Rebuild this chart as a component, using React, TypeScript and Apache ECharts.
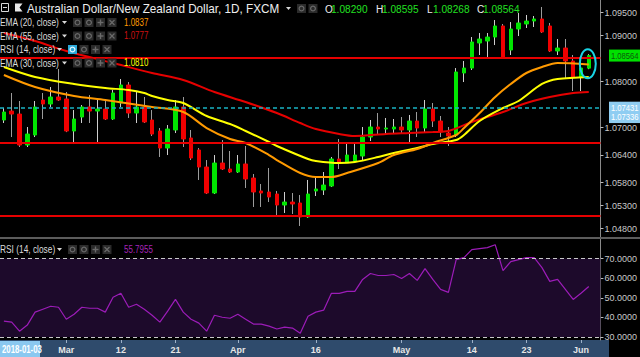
import React, { useEffect, useRef } from 'react';
import * as echarts from 'echarts';

// ---------- data ----------
const dates = [
  '2018-02-19','2018-02-20','2018-02-21','2018-02-22','2018-02-23',
  '2018-02-26','2018-02-27','2018-02-28','2018-03-01','2018-03-02',
  '2018-03-05','2018-03-06','2018-03-07','2018-03-08','2018-03-09',
  '2018-03-12','2018-03-13','2018-03-14','2018-03-15','2018-03-16',
  '2018-03-19','2018-03-20','2018-03-21','2018-03-22','2018-03-23',
  '2018-03-26','2018-03-27','2018-03-28','2018-03-29','2018-03-30',
  '2018-04-02','2018-04-03','2018-04-04','2018-04-05','2018-04-06',
  '2018-04-09','2018-04-10','2018-04-11','2018-04-12','2018-04-13',
  '2018-04-16','2018-04-17','2018-04-18','2018-04-19','2018-04-20',
  '2018-04-23','2018-04-24','2018-04-25','2018-04-26','2018-04-27',
  '2018-04-30','2018-05-01','2018-05-02','2018-05-03','2018-05-04',
  '2018-05-07','2018-05-08','2018-05-09','2018-05-10','2018-05-11',
  '2018-05-14','2018-05-15','2018-05-16','2018-05-17','2018-05-18',
  '2018-05-21','2018-05-22','2018-05-23','2018-05-24','2018-05-25',
  '2018-05-28','2018-05-29','2018-05-30','2018-05-31','2018-06-01',
  '2018-06-04'
];

const xTickLabels: [string, string][] = [
  ['2018-03-01', 'Mar'], ['2018-03-12', '12'], ['2018-03-21', '21'],
  ['2018-04-02', 'Apr'], ['2018-04-16', '16'], ['2018-05-01', 'May'],
  ['2018-05-14', '14'], ['2018-05-23', '23'], ['2018-06-01', 'Jun']
];

const priceTicks = [1.048, 1.053, 1.058, 1.064, 1.07, 1.08, 1.09, 1.095];
const rsiTicks = [30, 40, 50, 60, 70];

// [open, close, low, high]
const ohlc: number[][] = [
  [1.07163, 1.07337, 1.07098, 1.07424],
  [1.07358, 1.07293, 1.06793, 1.07750],
  [1.07293, 1.06619, 1.06576, 1.07576],
  [1.06619, 1.06858, 1.06576, 1.07011],
  [1.06837, 1.07446, 1.06793, 1.07576],
  [1.07598, 1.07511, 1.07185, 1.07750],
  [1.07511, 1.07663, 1.07446, 1.07880],
  [1.07663, 1.07598, 1.07576, 1.08272],
  [1.07620, 1.06924, 1.06900, 1.07772],
  [1.06924, 1.07185, 1.06641, 1.07380],
  [1.07228, 1.07446, 1.07098, 1.07489],
  [1.07446, 1.07358, 1.07098, 1.07706],
  [1.07358, 1.07402, 1.06685, 1.07598],
  [1.07402, 1.07185, 1.07163, 1.07598],
  [1.07185, 1.07750, 1.07163, 1.07815],
  [1.07533, 1.07924, 1.07446, 1.08054],
  [1.07924, 1.07315, 1.07207, 1.07989],
  [1.07315, 1.07446, 1.07098, 1.07772],
  [1.07446, 1.07120, 1.07098, 1.07663],
  [1.07163, 1.06858, 1.06815, 1.07380],
  [1.06924, 1.06554, 1.06359, 1.06989],
  [1.06554, 1.06967, 1.06402, 1.07054],
  [1.06946, 1.07446, 1.06880, 1.07598],
  [1.07446, 1.06750, 1.06576, 1.07663],
  [1.06772, 1.06337, 1.06293, 1.06946],
  [1.06511, 1.06141, 1.05859, 1.06554],
  [1.06141, 1.05576, 1.05554, 1.06293],
  [1.05576, 1.06228, 1.05554, 1.06402],
  [1.06228, 1.06098, 1.06076, 1.06728],
  [1.06098, 1.06033, 1.06011, 1.06489],
  [1.06033, 1.06207, 1.06011, 1.06402],
  [1.06207, 1.05880, 1.05685, 1.06598],
  [1.05902, 1.05598, 1.05272, 1.05989],
  [1.05620, 1.05576, 1.05272, 1.05772],
  [1.05598, 1.05489, 1.05380, 1.06120],
  [1.05554, 1.05315, 1.05054, 1.05620],
  [1.05315, 1.05380, 1.05141, 1.05598],
  [1.05380, 1.05337, 1.05120, 1.05576],
  [1.05359, 1.05054, 1.04859, 1.05533],
  [1.05054, 1.05554, 1.05033, 1.05859],
  [1.05620, 1.05663, 1.05511, 1.05924],
  [1.05641, 1.05750, 1.05533, 1.06033],
  [1.05728, 1.06315, 1.05706, 1.06359],
  [1.06315, 1.06250, 1.06098, 1.06750],
  [1.06250, 1.06402, 1.06228, 1.06663],
  [1.06272, 1.06402, 1.06228, 1.06641],
  [1.06380, 1.06793, 1.06293, 1.07011],
  [1.06793, 1.07011, 1.06706, 1.07163],
  [1.07011, 1.06967, 1.06858, 1.07315],
  [1.06967, 1.06989, 1.06858, 1.07207],
  [1.06967, 1.07011, 1.06858, 1.07185],
  [1.07011, 1.06946, 1.06858, 1.07228],
  [1.06946, 1.07141, 1.06685, 1.07272],
  [1.07141, 1.06989, 1.06793, 1.07337],
  [1.06989, 1.07402, 1.06902, 1.07598],
  [1.07402, 1.07141, 1.07011, 1.07533],
  [1.07141, 1.06902, 1.06793, 1.07250],
  [1.06880, 1.06815, 1.06598, 1.07011],
  [1.06837, 1.08207, 1.06793, 1.08293],
  [1.08185, 1.08293, 1.07989, 1.08446],
  [1.08293, 1.08859, 1.08250, 1.08967],
  [1.08837, 1.08924, 1.08576, 1.09054],
  [1.08880, 1.08967, 1.08533, 1.09054],
  [1.08967, 1.09207, 1.08793, 1.09337],
  [1.09207, 1.08533, 1.08511, 1.09250],
  [1.08685, 1.09141, 1.08576, 1.09293],
  [1.09141, 1.09272, 1.08989, 1.09489],
  [1.09250, 1.09315, 1.09163, 1.09446],
  [1.09315, 1.09359, 1.09185, 1.09424],
  [1.09359, 1.09076, 1.09054, 1.09620],
  [1.09207, 1.08663, 1.08641, 1.09272],
  [1.08663, 1.08728, 1.08576, 1.08924],
  [1.08728, 1.08446, 1.08076, 1.08924],
  [1.08446, 1.08098, 1.07793, 1.08576],
  [1.08098, 1.08293, 1.07793, 1.08533],
  [1.08290, 1.08564, 1.08268, 1.08595]
];

// EMA readings: [bar index, value]
const ema20: number[][] = [
  [0, 1.08141], [4, 1.07880], [9, 1.07685], [13, 1.07598], [19, 1.07446],
  [23, 1.07337], [26, 1.06989], [29, 1.06750], [31, 1.06663], [34, 1.06402],
  [35, 1.06293], [38, 1.06011], [40, 1.05924], [42, 1.05924], [44, 1.06011],
  [48, 1.06228], [50, 1.06402], [53, 1.06533], [55, 1.06663], [58, 1.06837],
  [59, 1.06989], [61, 1.07315], [63, 1.07663], [65, 1.07946], [67, 1.08185],
  [69, 1.08315], [71, 1.08402], [75, 1.0837]
];
const ema30: number[][] = [
  [0, 1.08315], [4, 1.08098], [9, 1.07946], [13, 1.07859], [16, 1.07815],
  [18, 1.07750], [19, 1.07685], [21, 1.07598], [23, 1.07533], [26, 1.07250],
  [29, 1.07076], [31, 1.06924], [34, 1.06685], [35, 1.06598], [39, 1.06315],
  [40, 1.06272], [43, 1.06228], [45, 1.06250], [48, 1.06359], [50, 1.06446],
  [53, 1.06554], [55, 1.06641], [58, 1.06728], [59, 1.06837], [61, 1.07141],
  [64, 1.07424], [66, 1.07576], [69, 1.07946], [71, 1.08054], [75, 1.0810]
];
const ema55: number[][] = [
  [0, 1.09054], [4, 1.08880], [8, 1.08663], [14, 1.08402], [19, 1.08185],
  [23, 1.08033], [27, 1.07772], [31, 1.07554], [35, 1.07315], [38, 1.07098],
  [40, 1.06967], [43, 1.06859], [45, 1.06815], [49, 1.06859], [52, 1.06880],
  [55, 1.06902], [57, 1.06924], [60, 1.07120], [64, 1.07337], [67, 1.07533],
  [70, 1.07663], [73, 1.07750], [75, 1.0777]
];

const rsi = [
  38.1, 37.6, 33.0, 36.1, 42.7, 44.2, 45.7, 45.2, 39.1, 41.6,
  45.2, 44.7, 44.7, 42.7, 50.3, 52.3, 45.2, 46.7, 44.2, 41.1,
  37.6, 43.2, 49.2, 42.7, 39.1, 37.1, 33.0, 41.1, 40.1, 39.6,
  41.6, 39.1, 36.6, 36.6, 35.6, 34.1, 35.1, 34.6, 32.0, 40.6,
  42.7, 43.7, 52.3, 52.3, 53.3, 53.3, 59.4, 62.4, 61.4, 61.4,
  61.9, 59.9, 62.4, 58.9, 64.9, 59.4, 54.3, 52.8, 69.5, 70.5,
  74.6, 75.1, 75.6, 77.1, 63.9, 68.5, 69.5, 70.5, 70.5, 65.4,
  58.4, 59.4, 54.3, 49.2, 52.3, 55.8
];

const hLinesRed = [1.08522, 1.06674, 1.05083];
const hLineCyan = 1.07431;
const priceTags = [
  { value: 1.08564, text: '1.08564', bg: '#00e000', fg: '#0d5a0d', shift: 0 },
  { value: 1.07431, text: '1.07431', bg: '#8fcdf2', fg: '#ffffff', shift: 0 },
  { value: 1.07336, text: '1.07336', bg: '#8fcdf2', fg: '#ffffff', shift: 5 }
];

const title = 'Australian Dollar/New Zealand Dollar, 1D, FXCM';
const ohlcLegend = [
  ['O', '1.08290'], ['H', '1.08595'], ['L', '1.08268'], ['C', '1.08564']
];

// ---------- styles ----------
const UP = '#00e600';
const DOWN = '#f00000';
const FONT = '"Liberation Sans", Arial, sans-serif';
const categories = [...dates, ''];
const tickMap: Record<string, string> = Object.fromEntries(xTickLabels);

function txt(x: number, y: number, text: string, fill: string, size: number, sx: number, weight = 'normal', z = 50) {
  return {
    type: 'text', x, y, scaleX: sx, z, silent: true,
    style: {
      text, fill, font: `${weight} ${size}px ${FONT}`,
      textAlign: 'left', align: 'left', textVerticalAlign: 'middle', verticalAlign: 'middle'
    }
  };
}

function iconBoxes(x0: number, yc: number, highlight: boolean) {
  const els: any[] = [];
  for (let i = 0; i < 4; i++) {
    const x = x0 + i * 11.5;
    const hl = highlight && i === 0;
    els.push({ type: 'rect', z: 50, silent: true, shape: { x, y: yc - 4.5, width: 9, height: 9 }, style: { fill: hl ? '#2aa8d8' : '#2b2b2b' } });
    const gc = hl ? '#e8f8ff' : '#6a6a6a';
    const cx = x + 4.5;
    if (i < 2) {
      els.push({ type: 'circle', z: 51, silent: true, shape: { cx, cy: yc, r: 2.4 }, style: { fill: 'none', stroke: gc, lineWidth: 1.2 } });
    } else if (i === 2) {
      els.push({ type: 'line', z: 51, silent: true, shape: { x1: cx - 3, y1: yc, x2: cx + 3, y2: yc }, style: { stroke: gc, lineWidth: 1.4 } });
      els.push({ type: 'line', z: 51, silent: true, shape: { x1: cx, y1: yc - 3, x2: cx, y2: yc + 3 }, style: { stroke: gc, lineWidth: 1.4 } });
    } else {
      els.push({ type: 'line', z: 51, silent: true, shape: { x1: cx - 2.5, y1: yc - 2.5, x2: cx + 2.5, y2: yc + 2.5 }, style: { stroke: gc, lineWidth: 1.2 } });
      els.push({ type: 'line', z: 51, silent: true, shape: { x1: cx + 2.5, y1: yc - 2.5, x2: cx - 2.5, y2: yc + 2.5 }, style: { stroke: gc, lineWidth: 1.2 } });
    }
  }
  return els;
}

function caret(x: number, yc: number) {
  return { type: 'polygon', z: 50, silent: true, shape: { points: [[x, yc - 1.5], [x + 5, yc - 1.5], [x + 2.5, yc + 1.5]] }, style: { fill: '#d8d8d8' } };
}

function legendRow(yc: number, label: string, value: string | null, vColor: string, boxX: number, highlight: boolean) {
  const els: any[] = [txt(0, yc, label, '#dcdcdc', 11, 0.76)];
  els.push(caret(boxX - 11, yc));
  els.push(...iconBoxes(boxX, yc, highlight));
  if (value) els.push(txt(124, yc, value, vColor, 10, 0.8));
  return els;
}

const option: any = {
  animation: false,
  backgroundColor: '#000000',
  grid: [
    { left: -6, right: 30, top: 0, height: 238 },
    { left: -6, right: 30, top: 239, height: 101 }
  ],
  xAxis: [
    {
      type: 'category', gridIndex: 0, data: categories, boundaryGap: true,
      axisLine: { show: false }, axisTick: { show: false }, axisLabel: { show: false }, splitLine: { show: false }
    },
    {
      type: 'category', gridIndex: 1, data: categories, boundaryGap: true,
      axisLine: { show: false },
      axisTick: { show: true, length: 3, alignWithLabel: true, interval: (i: number, v: string) => !!tickMap[v], lineStyle: { color: '#9fb2c8' } },
      axisLabel: {
        show: true, interval: (i: number, v: string) => !!tickMap[v], formatter: (v: string) => tickMap[v] || '',
        color: '#e6e6e6', fontSize: 9, fontWeight: 'bold', fontFamily: FONT, margin: 5
      },
      splitLine: { show: false }
    }
  ],
  yAxis: [
    {
      type: 'value', gridIndex: 0, position: 'right', min: 1.04598, max: 1.09772, scale: true,
      axisLine: { show: true, lineStyle: { color: '#8a8a8a' } },
      axisTick: { show: true, length: 3, customValues: priceTicks, lineStyle: { color: '#bbbbbb' } },
      axisLabel: { show: true, customValues: priceTicks, formatter: (v: number) => v.toFixed(5), color: '#c8c8c8', fontSize: 9, fontFamily: FONT, margin: 4 },
      splitLine: { show: false }
    },
    {
      type: 'value', gridIndex: 1, position: 'right', min: 28.5, max: 80,
      axisLine: { show: true, lineStyle: { color: '#8a8a8a' } },
      axisTick: { show: true, length: 3, customValues: rsiTicks, lineStyle: { color: '#bbbbbb' } },
      axisLabel: { show: true, customValues: rsiTicks, formatter: (v: number) => v.toFixed(4), color: '#c8c8c8', fontSize: 9, fontFamily: FONT, margin: 4 },
      splitLine: { show: false }
    }
  ],
  series: [
    {
      name: 'wicks', type: 'candlestick', xAxisIndex: 0, yAxisIndex: 0, barWidth: 1, z: 2,
      data: ohlc,
      itemStyle: { color: '#cfcfcf', color0: '#9c9c9c', borderColor: '#cfcfcf', borderColor0: '#9c9c9c', borderWidth: 1 }
    },
    {
      name: 'bodies', type: 'candlestick', xAxisIndex: 0, yAxisIndex: 0, barWidth: 4, z: 3,
      data: ohlc.map(([o, c]) => [o, c, Math.min(o, c), Math.max(o, c)]),
      itemStyle: { color: UP, color0: DOWN, borderColor: UP, borderColor0: DOWN, borderWidth: 1 }
    },
    {
      name: 'EMA 55', type: 'line', xAxisIndex: 0, yAxisIndex: 0, data: ema55, smooth: 0.3, symbol: 'none', z: 4,
      lineStyle: { color: '#e60000', width: 2 },
      markLine: {
        silent: true, symbol: ['none', 'none'], label: { show: false }, precision: 5,
        data: [
          ...hLinesRed.map((v) => ({ yAxis: v, lineStyle: { color: '#e60000', width: 2, type: 'solid' } })),
          { yAxis: hLineCyan, lineStyle: { color: '#19b3c4', width: 1.5, type: [4, 3] } }
        ]
      }
    },
    {
      name: 'EMA 30', type: 'line', xAxisIndex: 0, yAxisIndex: 0, data: ema30, smooth: 0.3, symbol: 'none', z: 4,
      lineStyle: { color: '#ffff00', width: 2 }
    },
    {
      name: 'EMA 20', type: 'line', xAxisIndex: 0, yAxisIndex: 0, data: ema20, smooth: 0.3, symbol: 'none', z: 4,
      lineStyle: { color: '#ff9a00', width: 2 }
    },
    {
      name: 'RSI', type: 'line', xAxisIndex: 1, yAxisIndex: 1, data: rsi, symbol: 'none', z: 4,
      lineStyle: { color: '#9c1cb8', width: 1.2 },
      markArea: {
        silent: true, itemStyle: { color: '#1d0a2b' },
        data: [[{ yAxis: 30 }, { yAxis: 70 }]]
      },
      markLine: {
        silent: true, symbol: ['none', 'none'], label: { show: false }, precision: 4,
        lineStyle: { color: '#c8c8c8', width: 1, type: [4, 3] },
        data: [{ yAxis: 70 }, { yAxis: 30 }]
      }
    }
  ]
};

export default function App() {
  const ref = useRef<HTMLDivElement>(null);
  useEffect(() => {
    document.body.style.margin = '0';
    const chart = echarts.init(ref.current as HTMLDivElement, undefined, { renderer: 'svg', width: 640, height: 357 });
    chart.setOption(option);

    const py = (v: number) => chart.convertToPixel({ yAxisIndex: 0 }, v) as number;
    const lastX = chart.convertToPixel({ xAxisIndex: 0 }, dates[dates.length - 1]) as number;
    const last = ohlc[ohlc.length - 1];

    const g: any[] = [];
    // bottom date bar
    g.push({ type: 'rect', z: -1, silent: true, shape: { x: 0, y: 340, width: 609, height: 17 }, style: { fill: '#2f4b6c' } });
    g.push({ type: 'rect', z: 60, silent: true, shape: { x: 0, y: 341, width: 40, height: 16 }, style: { fill: '#8ac8f0' } });
    g.push(txt(2, 349.5, '2018-01-03', '#ffffff', 10, 0.78, 'bold', 61));
    // panel separator
    g.push({ type: 'rect', z: 40, silent: true, shape: { x: 0, y: 237, width: 640, height: 2 }, style: { fill: '#5c5c5c' } });

    // title row
    g.push({ type: 'rect', z: 50, silent: true, shape: { x: 1.5, y: 3.5, width: 7, height: 8 }, style: { fill: 'none', stroke: '#d8d8d8', lineWidth: 1 } });
    g.push({ type: 'line', z: 50, silent: true, shape: { x1: 3, y1: 7.5, x2: 7, y2: 7.5 }, style: { stroke: '#d8d8d8', lineWidth: 1 } });
    g.push({ type: 'polygon', z: 50, silent: true, shape: { points: [[15, 3.5], [22.5, 3.5], [19.5, 7.5], [22.5, 11.5], [15, 11.5]] }, style: { fill: '#e8e8e8' } });
    g.push(txt(27, 8.5, title, '#eeeeee', 13, 0.9));
    g.push(caret(286, 8.5));
    g.push({ type: 'rect', z: 50, silent: true, shape: { x: 297, y: 4, width: 9, height: 9 }, style: { fill: '#2b2b2b' } });
    g.push({ type: 'circle', z: 51, silent: true, shape: { cx: 301.5, cy: 8.5, r: 2.4 }, style: { fill: 'none', stroke: '#6a6a6a', lineWidth: 1.2 } });
    g.push({ type: 'rect', z: 50, silent: true, shape: { x: 308.5, y: 4, width: 9, height: 9 }, style: { fill: '#2b2b2b' } });
    g.push({ type: 'circle', z: 51, silent: true, shape: { cx: 313, cy: 8.5, r: 2.4 }, style: { fill: 'none', stroke: '#6a6a6a', lineWidth: 1.2 } });

    const ohlcX = [325, 376, 427, 477];
    ohlcLegend.forEach(([k, v], i) => {
      g.push(txt(ohlcX[i], 8.5, k, '#eeeeee', 11, 0.92));
      g.push(txt(ohlcX[i] + 6, 8.5, v, '#22e022', 11, 0.92));
    });

    g.push(...legendRow(22.5, 'EMA (20, close)', '1.0837', '#ff9a00', 73, false));
    g.push(...legendRow(36, 'EMA (55, close)', '1.0777', '#cc1010', 73, false));
    g.push(...legendRow(49.5, 'RSI (14, close)', null, '', 68, true));
    g.push(...legendRow(63, 'EMA (30, close)', '1.0810', '#ffff00', 73, false));
    g.push(...legendRow(249.5, 'RSI (14, close)', '55.7955', '#a424b8', 68, false));

    // price tags on axis
    priceTags.forEach((t) => {
      const y = py(t.value) + t.shift;
      g.push({ type: 'rect', z: 70, silent: true, shape: { x: 609, y: y - 6, width: 31, height: 12 }, style: { fill: t.bg } });
      g.push(txt(611, y, t.text, t.fg, 9, 0.85, 'normal', 71));
    });

    // highlight ellipse around the last candle
    const yMid = py((last[2] + last[3]) / 2);
    g.push({ type: 'ellipse', z: 60, silent: true, shape: { cx: lastX - 1, cy: yMid + 2, rx: 8, ry: 14.5 }, style: { fill: 'none', stroke: '#18d4e4', lineWidth: 2 } });

    chart.setOption({ graphic: g });
    return () => chart.dispose();
  }, []);
  return <div ref={ref} style={{ width: 640, height: 357 }} />;
}
